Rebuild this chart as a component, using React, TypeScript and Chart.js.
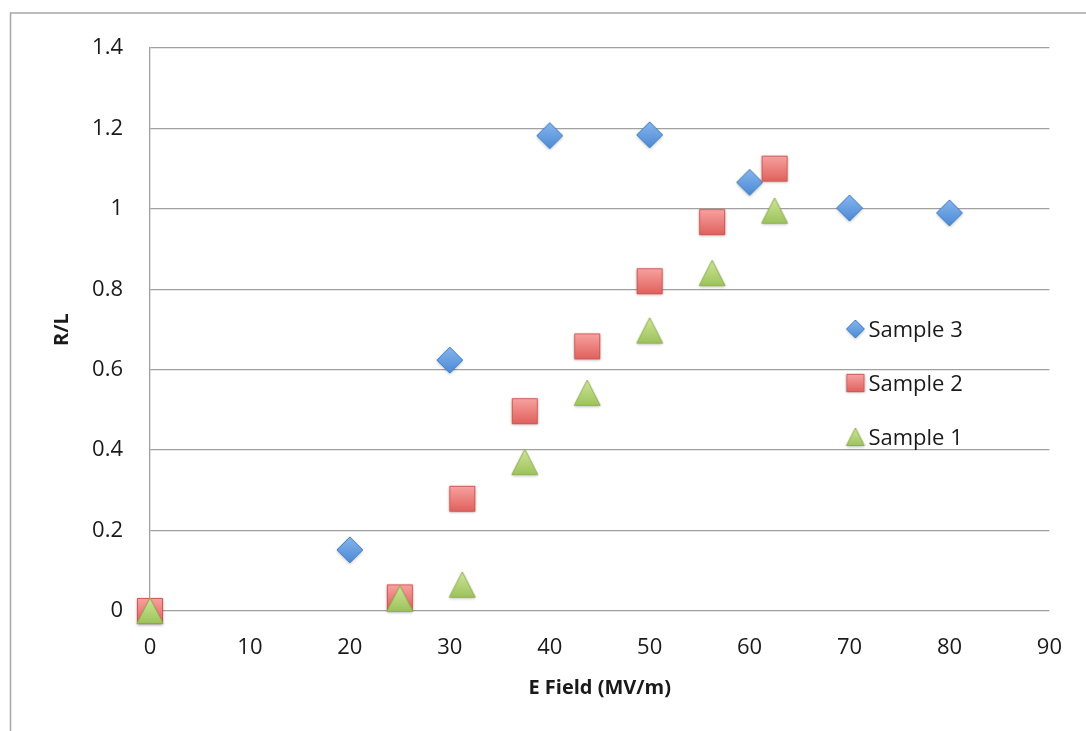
import React, { useEffect, useRef } from "react";
import { Chart, registerables } from "chart.js";

Chart.register(...registerables);

const sample3X = [20, 30, 40, 50, 60, 70, 80];
const sample3Y = [0.152, 0.624, 1.182, 1.184, 1.066, 1.002, 0.99];
const sample2X = [0, 25, 31.25, 37.5, 43.75, 50, 56.25, 62.5];
const sample2Y = [0.0, 0.034, 0.279, 0.497, 0.658, 0.82, 0.967, 1.1];
const sample1X = [0, 25, 31.25, 37.5, 43.75, 50, 56.25, 62.5];
const sample1Y = [0.0, 0.03, 0.065, 0.37, 0.542, 0.697, 0.84, 0.995];
const seriesNames = ["Sample 3", "Sample 2", "Sample 1"];
const xTitle = "E Field (MV/m)";
const yTitle = "R/L";

const FONT = "'Open Sans', 'Liberation Sans', sans-serif";

type Kind = "diamond" | "square" | "triangle";

function makeMarker(kind: Kind, size: number): HTMLCanvasElement {
  const pad = 4;
  const c = document.createElement("canvas");
  c.width = size + pad * 2;
  c.height = size + pad * 2;
  const ctx = c.getContext("2d")!;
  const cx = c.width / 2;
  const cy = c.height / 2;
  const h = size / 2;
  const path = () => {
    ctx.beginPath();
    if (kind === "diamond") {
      ctx.moveTo(cx, cy - h);
      ctx.lineTo(cx + h, cy);
      ctx.lineTo(cx, cy + h);
      ctx.lineTo(cx - h, cy);
    } else if (kind === "square") {
      const s = h * 0.97;
      ctx.rect(cx - s, cy - s, 2 * s, 2 * s);
    } else {
      ctx.moveTo(cx, cy - h);
      ctx.lineTo(cx + h, cy + h * 0.95);
      ctx.lineTo(cx - h, cy + h * 0.95);
    }
    ctx.closePath();
  };
  let top = "", bot = "", stroke = "";
  if (kind === "diamond") {
    top = "#86b6ec"; bot = "#4c8ad6"; stroke = "#3f7cc4";
  } else if (kind === "square") {
    top = "#f7a3a1"; bot = "#e0605c"; stroke = "#c9514d";
  } else {
    top = "#cfe59a"; bot = "#9cc25a"; stroke = "#8db04f";
  }
  ctx.save();
  ctx.shadowColor = "rgba(0,0,0,0.25)";
  ctx.shadowBlur = 3;
  ctx.shadowOffsetY = 1.5;
  path();
  const g = ctx.createLinearGradient(0, cy - h, 0, cy + h);
  g.addColorStop(0, top);
  g.addColorStop(1, bot);
  ctx.fillStyle = g;
  ctx.fill();
  ctx.restore();
  path();
  ctx.lineWidth = 1;
  ctx.strokeStyle = stroke;
  ctx.stroke();
  return c;
}

export default function App() {
  const ref = useRef<HTMLCanvasElement | null>(null);
  useEffect(() => {
    if (!ref.current) return;
    const mDiamond = makeMarker("diamond", 26);
    const mSquare = makeMarker("square", 26);
    const mTri = makeMarker("triangle", 26);
    const lDiamond = makeMarker("diamond", 18);
    const lSquare = makeMarker("square", 18);
    const lTri = makeMarker("triangle", 18);

    const frame = {
      id: "frame",
      beforeDraw(chart: any) {
        const ctx = chart.ctx;
        ctx.save();
        ctx.fillStyle = "#ffffff";
        ctx.fillRect(0, 0, chart.width, chart.height);
        ctx.strokeStyle = "#a6a6a6";
        ctx.lineWidth = 1.5;
        ctx.beginPath();
        ctx.moveTo(10.5, chart.height);
        ctx.lineTo(10.5, 13);
        ctx.lineTo(chart.width, 13);
        ctx.stroke();
        ctx.restore();
      },
      afterDraw(chart: any) {
        const ctx = chart.ctx;
        const markers = [lDiamond, lSquare, lTri];
        const xs = chart.scales.x;
        const ys = chart.scales.y;
        ctx.save();
        ctx.font = `22px ${FONT}`;
        ctx.fillStyle = "#1a1a1a";
        ctx.textBaseline = "middle";
        ctx.textAlign = "left";
        seriesNames.forEach((name, i) => {
          const mx = xs.right - 194;
          const my = ys.top + 281 + i * 54;
          const m = markers[i];
          ctx.drawImage(m, mx - m.width / 2, my - m.height / 2);
          ctx.fillText(name, mx + 13, my + 2);
        });
        ctx.restore();
      },
    };

    const chart = new Chart(ref.current, {
      type: "scatter",
      data: {
        datasets: [
          {
            label: seriesNames[2],
            data: sample1X.map((x, i) => ({ x, y: sample1Y[i] })),
            pointStyle: mTri as any,
            backgroundColor: "#9cc25a",
          },
          {
            label: seriesNames[1],
            data: sample2X.map((x, i) => ({ x, y: sample2Y[i] })),
            pointStyle: mSquare as any,
            backgroundColor: "#e0605c",
          },
          {
            label: seriesNames[0],
            data: sample3X.map((x, i) => ({ x, y: sample3Y[i] })),
            pointStyle: mDiamond as any,
            backgroundColor: "#4c8ad6",
          },
        ],
      },
      options: {
        animation: false,
        responsive: false,
        maintainAspectRatio: false,
        clip: false as any,
        layout: { padding: { left: 0, top: 48, right: 35, bottom: 0 } },
        plugins: {
          legend: { display: false },
          tooltip: { enabled: false },
        },
        scales: {
          x: {
            type: "linear",
            min: 0,
            max: 90,
            ticks: {
              stepSize: 10,
              padding: 24,
              color: "#1a1a1a",
              font: { family: FONT, size: 22 },
            },
            grid: { display: false, drawTicks: false },
            border: { display: false },
            title: {
              display: true,
              text: xTitle,
              color: "#1a1a1a",
              font: { family: FONT, size: 20, weight: "bold" },
              padding: { top: 0, bottom: 31 },
            },
            afterFit(scale: any) {
              scale.height = 120;
            },
          },
          y: {
            type: "linear",
            min: 0,
            max: 1.4,
            ticks: {
              stepSize: 0.2,
              padding: 27,
              color: "#1a1a1a",
              font: { family: FONT, size: 22 },
              callback: (v: any) => String(Math.round(Number(v) * 10) / 10),
            },
            grid: {
              color: "#a0a0a0",
              lineWidth: 1.3,
              drawTicks: false,
            },
            border: { display: true, color: "#a0a0a0", width: 1.3 },
            title: {
              display: true,
              text: yTitle,
              color: "#1a1a1a",
              font: { family: FONT, size: 20, weight: "bold" },
              padding: { top: 50, bottom: 0 },
            },
            afterFit(scale: any) {
              scale.width = 150;
            },
          },
        },
      },
      plugins: [frame],
    });
    return () => chart.destroy();
  }, []);
  return (
    <div style={{ position: "absolute", left: 0, top: 0, width: 1086, height: 731 }}>
      <canvas ref={ref} width={1086} height={731} style={{ display: "block" }} />
    </div>
  );
}
